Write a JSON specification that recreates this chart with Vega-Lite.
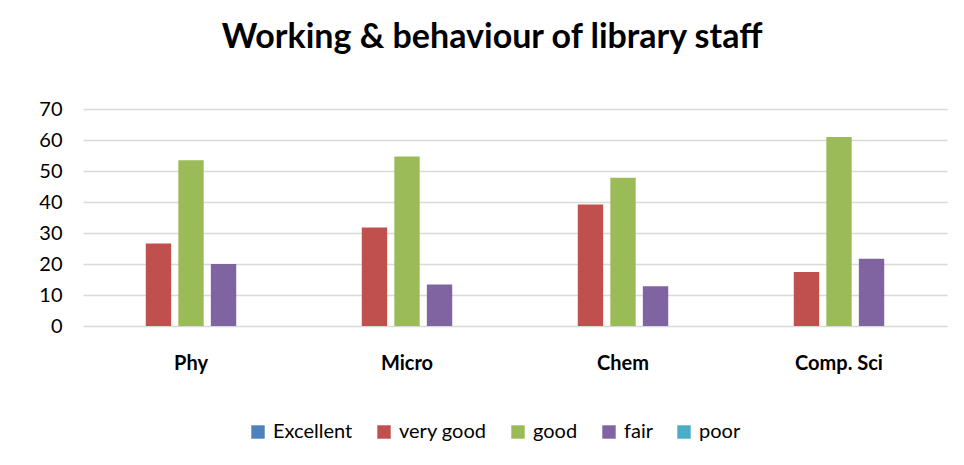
{
  "$schema": "https://vega.github.io/schema/vega-lite/v6.json",
  "width": 864,
  "height": 217,
  "autosize": {"type": "none"},
  "padding": {"left": 83, "top": 109, "right": 17, "bottom": 139},
  "background": "white",
  "title": {
    "text": "Working & behaviour of library staff",
    "font": "Lato",
    "fontSize": 34,
    "fontWeight": "bold",
    "color": "#000000",
    "anchor": "middle",
    "dx": -23,
    "baseline": "alphabetic",
    "offset": 17
  },
  "data": {
    "values": [
      {"dept": "Phy", "rating": "Excellent", "value": 0},
      {"dept": "Phy", "rating": "very good", "value": 26.6},
      {"dept": "Phy", "rating": "good", "value": 53.5},
      {"dept": "Phy", "rating": "fair", "value": 20.0},
      {"dept": "Phy", "rating": "poor", "value": 0},
      {"dept": "Micro", "rating": "Excellent", "value": 0},
      {"dept": "Micro", "rating": "very good", "value": 31.8},
      {"dept": "Micro", "rating": "good", "value": 54.7},
      {"dept": "Micro", "rating": "fair", "value": 13.4},
      {"dept": "Micro", "rating": "poor", "value": 0},
      {"dept": "Chem", "rating": "Excellent", "value": 0},
      {"dept": "Chem", "rating": "very good", "value": 39.2},
      {"dept": "Chem", "rating": "good", "value": 47.8},
      {"dept": "Chem", "rating": "fair", "value": 12.8},
      {"dept": "Chem", "rating": "poor", "value": 0},
      {"dept": "Comp. Sci", "rating": "Excellent", "value": 0},
      {"dept": "Comp. Sci", "rating": "very good", "value": 17.4},
      {"dept": "Comp. Sci", "rating": "good", "value": 61.0},
      {"dept": "Comp. Sci", "rating": "fair", "value": 21.7},
      {"dept": "Comp. Sci", "rating": "poor", "value": 0}
    ]
  },
  "mark": {"type": "bar"},
  "encoding": {
    "x": {
      "field": "dept",
      "type": "nominal",
      "sort": ["Phy", "Micro", "Chem", "Comp. Sci"],
      "scale": {"paddingInner": 0.25, "paddingOuter": 0.125},
      "axis": {
        "title": null,
        "labelAngle": 0,
        "labelFont": "Lato",
        "labelFontSize": 20,
        "labelFontWeight": "bold",
        "labelColor": "#000000",
        "labelPadding": 27,
        "ticks": false,
        "domain": false
      }
    },
    "xOffset": {
      "field": "rating",
      "type": "nominal",
      "sort": ["Excellent", "very good", "good", "fair", "poor"],
      "scale": {"paddingInner": 0.22, "paddingOuter": 0.1}
    },
    "y": {
      "field": "value",
      "type": "quantitative",
      "scale": {"domain": [0, 70]},
      "axis": {
        "title": null,
        "values": [0, 10, 20, 30, 40, 50, 60, 70],
        "labelFont": "Lato",
        "labelFontSize": 20,
        "labelColor": "#000000",
        "labelPadding": 21,
        "ticks": false,
        "domain": false,
        "grid": true,
        "gridColor": "#d9d9d9",
        "gridWidth": 1.3
      }
    },
    "color": {
      "field": "rating",
      "type": "nominal",
      "sort": ["Excellent", "very good", "good", "fair", "poor"],
      "scale": {
        "domain": ["Excellent", "very good", "good", "fair", "poor"],
        "range": ["#4F81BD", "#C0504D", "#9BBB59", "#8064A2", "#4BACC6"]
      },
      "legend": {
        "title": null,
        "orient": "none",
        "direction": "horizontal",
        "legendX": 165,
        "legendY": 313,
        "symbolType": "square",
        "symbolSize": 180,
        "symbolStrokeWidth": 0,
        "labelFont": "Lato",
        "labelFontSize": 20,
        "labelColor": "#000000",
        "labelOffset": 5,
        "columnPadding": 21
      }
    }
  },
  "config": {
    "view": {"stroke": null}
  }
}
